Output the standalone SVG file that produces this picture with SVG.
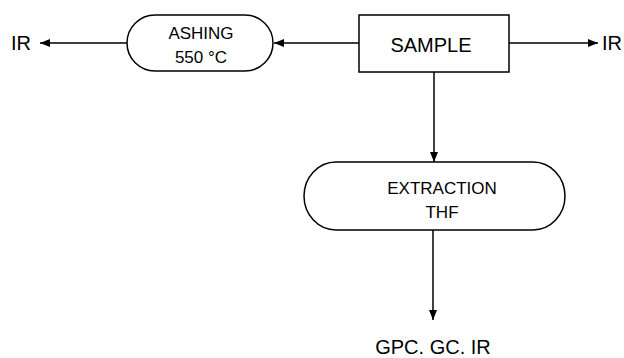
<svg xmlns="http://www.w3.org/2000/svg" width="624" height="358" viewBox="0 0 624 358">
<style>
.n{fill:#fff;stroke:#000;stroke-width:1.5}
.c{stroke:#000;stroke-width:1.5;fill:none;marker-end:url(#a)}
text{font-family:"Liberation Sans",Arial,sans-serif;fill:#000;text-anchor:middle}
.s{font-size:17px}
.l{font-size:20px}
</style>
<defs>
<marker id="a" viewBox="0 0 10 10" refX="10" refY="5" markerWidth="10" markerHeight="10" markerUnits="userSpaceOnUse" orient="auto">
<path d="M0,1 L10,5 L0,9 Z" fill="#000"/>
</marker>
</defs>
<g id="connectors">
<line class="c" x1="359" y1="43" x2="274" y2="43"/>
<line class="c" x1="127" y1="43" x2="40" y2="43"/>
<line class="c" x1="509" y1="43" x2="598" y2="43"/>
<line class="c" x1="434" y1="72" x2="434" y2="162"/>
<line class="c" x1="433" y1="230" x2="433" y2="320"/>
</g>
<g id="sample">
<rect class="n" x="359" y="15" width="150" height="57"/>
<text class="l" x="431" y="52">SAMPLE</text>
</g>
<g id="ashing">
<rect class="n" x="127" y="15" width="146" height="56" rx="28" ry="28"/>
<text class="s" x="201" y="39">ASHING</text>
<text class="s" x="201" y="63">550 °C</text>
</g>
<g id="extraction">
<rect class="n" x="304" y="162" width="261" height="68" rx="32" ry="34"/>
<text class="s" x="442" y="194">EXTRACTION</text>
<text class="s" x="442" y="218">THF</text>
</g>
<g id="ir-left"><text class="l" x="21" y="50">IR</text></g>
<g id="ir-right"><text class="l" x="612" y="50">IR</text></g>
<g id="out"><text class="l" x="433" y="354">GPC. GC. IR</text></g>
</svg>
